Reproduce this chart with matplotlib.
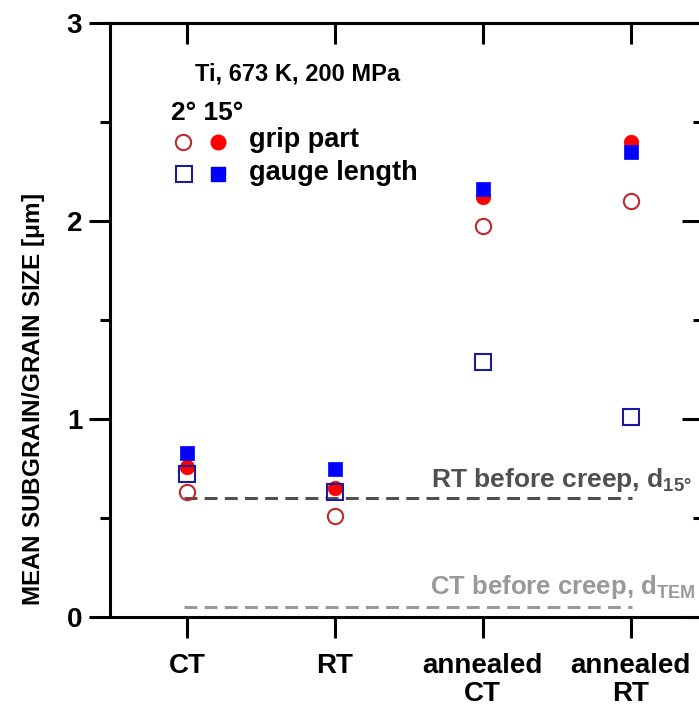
import matplotlib
matplotlib.use("Agg")
import matplotlib.pyplot as plt
from matplotlib.ticker import MultipleLocator

plt.rcParams['font.family'] = ['Liberation Sans', 'DejaVu Sans']
plt.rcParams['mathtext.fontset'] = 'custom'
plt.rcParams['mathtext.rm'] = 'Liberation Sans'
plt.rcParams['mathtext.bf'] = 'Liberation Sans:bold'

categories = ["CT", "RT", "annealed\nCT", "annealed\nRT"]
grip_2deg = [0.63, 0.51, 1.975, 2.10]
grip_15deg = [0.76, 0.65, 2.12, 2.40]
gauge_2deg = [0.72, 0.63, 1.29, 1.01]
gauge_15deg = [0.83, 0.75, 2.16, 2.35]
rt_before = 0.60
ct_before = 0.05

fig = plt.figure(figsize=(6.99, 7.08), dpi=100)
ax = fig.add_axes([110/699, (708-617)/708, 593/699, 594/708])

xs = [1, 2, 3, 4]
# reference lines
ax.plot([xs[0]-0.02, xs[-1]+0.01], [rt_before]*2, ls=(0, (4.2, 2.4)), color='#505050', lw=2.2, zorder=1)
ax.plot([xs[0]-0.02, xs[-1]+0.01], [ct_before]*2, ls=(0, (4.2, 2.4)), color='#999999', lw=2.2, zorder=1)

ms = 10.5
ax.plot(xs, grip_15deg, 'o', ms=ms, mfc='#ff0000', mec='#ff0000', mew=0.5, ls='none', zorder=3)
ax.plot(xs, gauge_15deg, 's', ms=ms, mfc='#0000ff', mec='#0000ff', mew=0.5, ls='none', zorder=4)
ax.plot(xs, grip_2deg, 'o', ms=ms + 0.5, mfc='none', mec='#c0282d', mew=1.5, ls='none', zorder=5)
ax.plot(xs, gauge_2deg, 's', ms=ms + 0.5, mfc='none', mec='#1a1a9a', mew=1.5, ls='none', zorder=5)

ax.set_xlim(0.48, 4.49)
ax.set_ylim(0, 3)
ax.set_xticks(xs)
ax.set_xticklabels(categories, fontsize=20, fontweight='bold', linespacing=1.1)
ax.yaxis.set_minor_locator(MultipleLocator(0.5))
ax.set_yticks([0, 1, 2, 3])
ax.set_yticklabels(['0', '1', '2', '3'], fontsize=20, fontweight='bold')
ax.tick_params(axis='y', which='major', direction='out', length=15, width=2.2, pad=5)
ax.tick_params(axis='y', which='minor', direction='out', length=7.5, width=2.2)
ax.tick_params(axis='x', which='major', direction='out', length=15, width=2.2, pad=11)
for s in ax.spines.values():
    s.set_linewidth(2.2)

sec_y = ax.secondary_yaxis('right')
sec_y.set_yticks([0, 1, 2, 3])
sec_y.yaxis.set_minor_locator(MultipleLocator(0.5))
sec_y.tick_params(axis='y', which='major', direction='in', length=15, width=2.2, labelright=False)
sec_y.tick_params(axis='y', which='minor', direction='in', length=7.5, width=2.2)
sec_y.spines['right'].set_linewidth(2.2)

sec_x = ax.secondary_xaxis('top')
sec_x.set_xticks(xs)
sec_x.tick_params(axis='x', which='major', direction='in', length=15, width=2.2, labeltop=False)
sec_x.spines['top'].set_linewidth(2.2)

fig.text(34/699, 1-400/708, 'MEAN SUBGRAIN/GRAIN SIZE [$\\mathbf{\\mu}$m]', rotation=90,
         ha='center', va='center', fontsize=17.5, fontweight='bold')

# annotations
ax.text(195, 708-74, 'Ti, 673 K, 200 MPa', transform=None, fontsize=17,
        family=['Liberation Sans Narrow', 'Liberation Sans'], fontweight='bold', va='center', ha='left')
ax.text(171, 708-113, '2° 15°', transform=None, fontsize=19, fontweight='bold', va='center', ha='left')
ax.text(249, 708-140, 'grip part', transform=None, fontsize=19.5, fontweight='bold', va='center', ha='left')
ax.text(249, 708-173, 'gauge length', transform=None, fontsize=19.5, fontweight='bold', va='center', ha='left')
ax.plot([183], [708-142], 'o', ms=ms + 0.5, mfc='none', mec='#c0282d', mew=1.5, transform=None, clip_on=False)
ax.plot([218], [708-142], 'o', ms=ms, mfc='#ff0000', mec='#ff0000', transform=None, clip_on=False)
ax.plot([184], [708-174], 's', ms=ms + 0.5, mfc='none', mec='#1a1a9a', mew=1.5, transform=None, clip_on=False)
ax.plot([218], [708-174], 's', ms=ms, mfc='#0000ff', mec='#0000ff', transform=None, clip_on=False)

ax.text(692, 708-480, 'RT before creep, d$_{\\mathbf{15°}}$', transform=None, fontsize=19, fontweight='bold',
        color='#505050', ha='right', va='center')
ax.text(695, 708-587, 'CT before creep, d$_{\\mathbf{TEM}}$', transform=None, fontsize=18.5, fontweight='bold',
        color='#999999', ha='right', va='center')

fig.savefig('out.png', dpi=100)
